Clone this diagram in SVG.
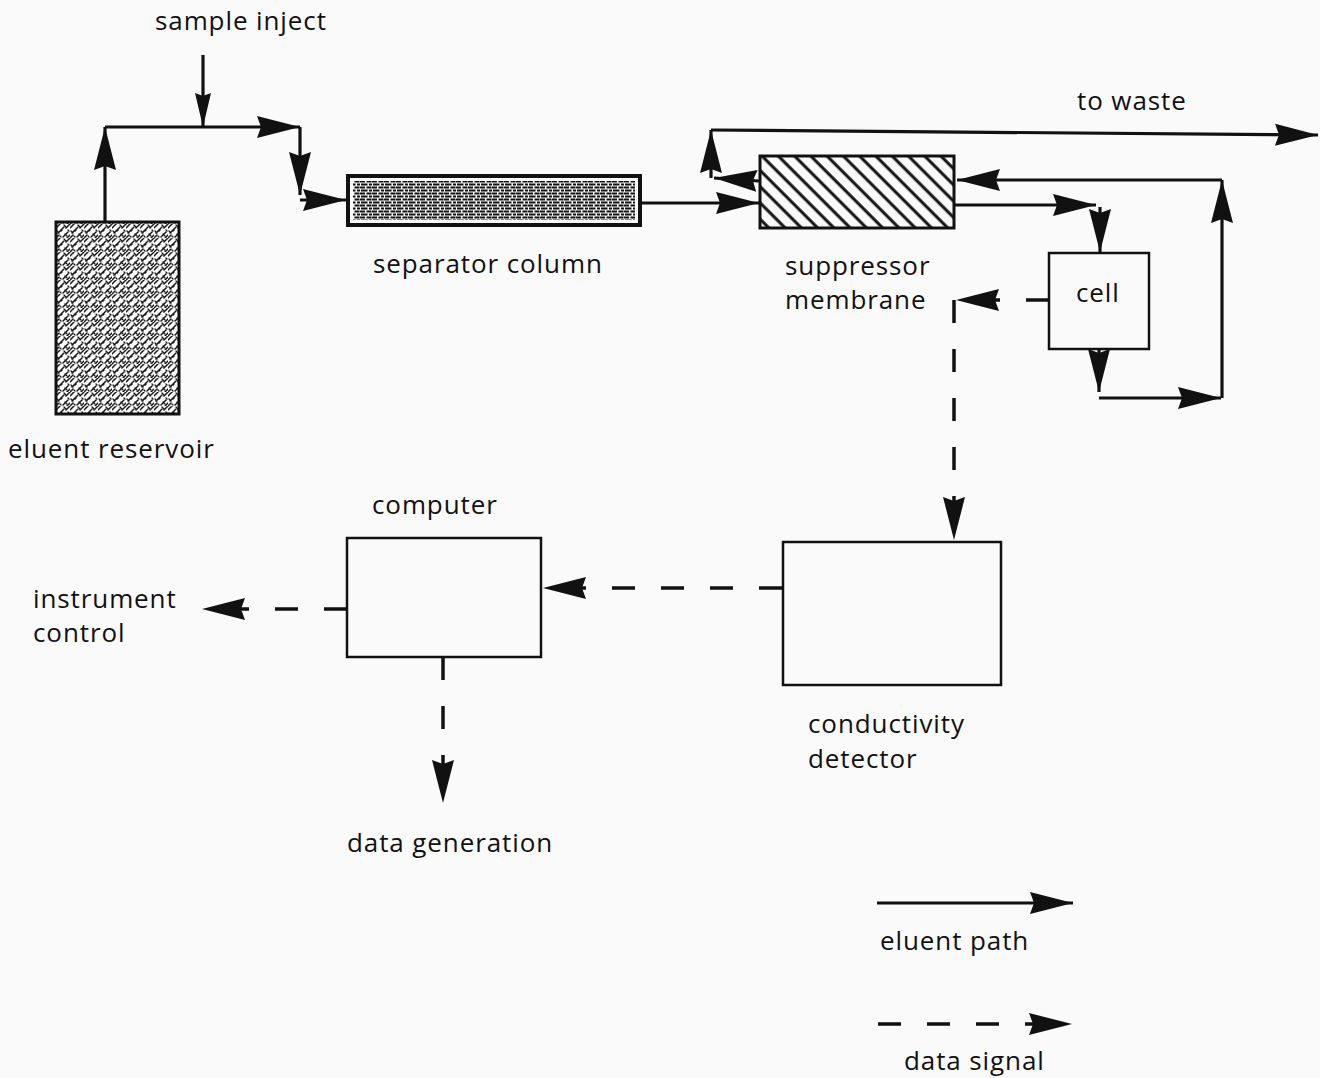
<svg xmlns="http://www.w3.org/2000/svg" width="1320" height="1078" viewBox="0 0 1320 1078">
<style>
  text { font-family: "Open Sans", "DejaVu Sans", sans-serif; font-size: 26px; letter-spacing: 0.9px; fill: #111; }
  .box { fill: #fafafa; stroke: #111; stroke-width: 2.5; }
  .flow { fill: none; stroke: #111; stroke-width: 3.2; }
  .sig { fill: none; stroke: #111; stroke-width: 3.5; stroke-dasharray: 23 26; }
</style>
<defs>
  <marker id="ah" markerUnits="userSpaceOnUse" viewBox="-44 -12 46 24" refX="0" refY="0" markerWidth="46" markerHeight="24" orient="auto">
    <path d="M0,0 L-43,-11 L-39,0 L-43,11 Z" fill="#111"/>
  </marker>
  <marker id="ahs" markerUnits="userSpaceOnUse" viewBox="-36 -9 38 18" refX="0" refY="0" markerWidth="38" markerHeight="18" orient="auto">
    <path d="M0,0 L-34,-8 L-31,0 L-34,8 Z" fill="#111"/>
  </marker>
  <pattern id="stipple" width="14" height="14" patternUnits="userSpaceOnUse">
    <rect width="14" height="14" fill="#fafafa"/>
    <path d="M0,4 L4,0 M2,9 L8,3 M7,13 L12,8 M0,14 L3,11 M10,4 L14,0 M11,14 L14,11 M5,7 L6,6 M-1,1 L1,-1" stroke="#1a1a1a" stroke-width="1.5" stroke-linecap="round"/>
    <path d="M1,7 L3,9 M9,10 L11,12 M8,1 L10,3 M12,6 L13,7 M4,12 L5,13" stroke="#1a1a1a" stroke-width="1.3" stroke-linecap="round"/>
  </pattern>
  <pattern id="noise" width="12" height="6" patternUnits="userSpaceOnUse">
    <rect width="12" height="6" fill="#fafafa"/>
    <path d="M0,1.5 H5 M6.5,1.5 H11.5 M1,4.5 H7.5 M9,4.5 H12" stroke="#111" stroke-width="2"/>
  </pattern>
  <pattern id="hatch" width="11.5" height="11.5" patternUnits="userSpaceOnUse" patternTransform="rotate(-45)">
    <rect width="11.5" height="11.5" fill="#fafafa"/>
    <path d="M3,0 V11.5" stroke="#111" stroke-width="3"/>
  </pattern>
</defs>
<rect width="1320" height="1078" fill="#fafafa"/>

<g id="connectors">
  <!-- eluent path -->
  <path class="flow" d="M105,222 V127" marker-end="url(#ah)"/>
  <path class="flow" d="M105,127 H300" marker-end="url(#ah)"/>
  <path class="flow" d="M203,55 V127" marker-end="url(#ahs)"/>
  <path class="flow" d="M300,127 V195" marker-end="url(#ah)"/>
  <path class="flow" d="M300,200 H346" marker-end="url(#ah)"/>
  <path class="flow" d="M641,203 H759" marker-end="url(#ah)"/>
  <path class="flow" d="M955,205 H1096" marker-end="url(#ah)"/>
  <path class="flow" d="M1100,207 V252" marker-end="url(#ah)"/>
  <path class="flow" d="M1099,350 V392" marker-end="url(#ah)"/>
  <path class="flow" d="M1099,398 H1221" marker-end="url(#ah)"/>
  <path class="flow" d="M1222,398 V180" marker-end="url(#ah)"/>
  <path class="flow" d="M1222,180 H957" marker-end="url(#ah)"/>
  <path class="flow" d="M759,181 L714,178" marker-end="url(#ah)"/>
  <path class="flow" d="M711,178 V130" marker-end="url(#ah)"/>
  <path class="flow" d="M711,130 L1318,135" marker-end="url(#ah)"/>
  <!-- data signal -->
  <path class="sig" d="M1049,300 H956" marker-end="url(#ah)"/>
  <path class="sig" d="M954,300 V540" stroke-dasharray="22 26" marker-end="url(#ah)"/>
  <path class="sig" d="M782,588 H543" marker-end="url(#ah)"/>
  <path class="sig" d="M347,609 H202" marker-end="url(#ah)"/>
  <path class="sig" d="M443,657 V803" marker-end="url(#ah)"/>
</g>

<g id="sample-inject">
  <text x="155" y="30">sample inject</text>
</g>

<g id="eluent-reservoir">
  <rect x="56" y="222" width="123" height="192" fill="url(#stipple)" stroke="#111" stroke-width="3"/>
  <text x="8" y="458">eluent reservoir</text>
</g>

<g id="separator-column">
  <rect x="348" y="176" width="292" height="49" fill="#fafafa" stroke="#111" stroke-width="4"/>
  <rect x="353" y="181" width="282" height="39" fill="url(#noise)"/>
  <text x="373" y="273">separator column</text>
</g>

<g id="suppressor-membrane">
  <rect x="760" y="156" width="194" height="72" fill="url(#hatch)" stroke="#111" stroke-width="3"/>
  <text x="785" y="275">suppressor</text>
  <text x="785" y="309">membrane</text>
</g>

<g id="to-waste">
  <text x="1077" y="110">to waste</text>
</g>

<g id="cell">
  <rect x="1049" y="253" width="100" height="96" class="box" stroke-width="3"/>
  <text x="1076" y="302">cell</text>
</g>

<g id="conductivity-detector">
  <rect x="783" y="542" width="218" height="143" class="box"/>
  <text x="808" y="733">conductivity</text>
  <text x="808" y="768">detector</text>
</g>

<g id="computer">
  <rect x="347" y="538" width="194" height="119" class="box"/>
  <text x="372" y="514">computer</text>
</g>

<g id="instrument-control">
  <text x="33" y="608">instrument</text>
  <text x="33" y="642">control</text>
</g>

<g id="data-generation">
  <text x="347" y="852">data generation</text>
</g>

<g id="legend">
  <path class="flow" d="M877,903 H1073" marker-end="url(#ah)"/>
  <text x="880" y="950">eluent path</text>
  <path class="sig" d="M878,1024 H1072" stroke-dasharray="24 25" marker-end="url(#ah)"/>
  <text x="904" y="1070">data signal</text>
</g>
</svg>
